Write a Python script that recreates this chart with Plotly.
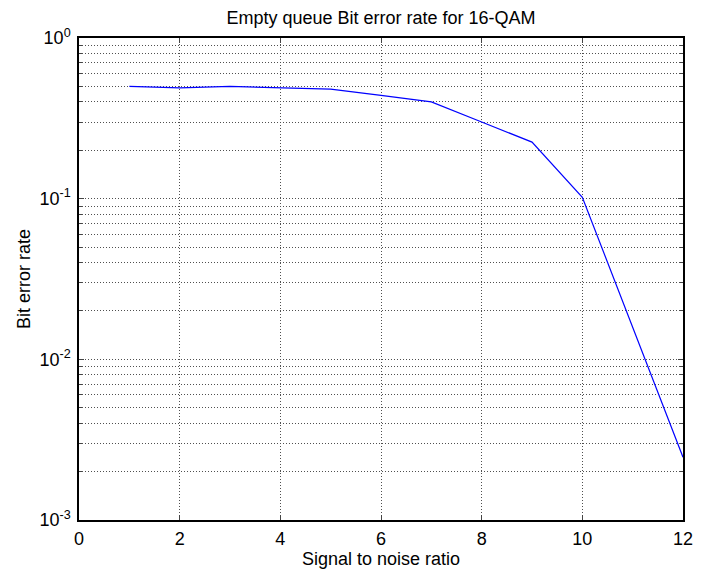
import plotly.graph_objects as go

snr = [1, 2, 3, 4, 5, 6, 7, 8, 9, 10, 11, 12]
ber = [0.50, 0.49, 0.50, 0.49, 0.48, 0.44, 0.40, 0.30, 0.225, 0.102, 0.0158, 0.00246]

x_ticks = [0, 2, 4, 6, 8, 10, 12]
y_tickvals = [1e-3, 1e-2, 1e-1, 1]
y_ticktext = ["10<sup>-3</sup>", "10<sup>-2</sup>", "10<sup>-1</sup>", "10<sup>0</sup>"]

FAM = "Liberation Sans, Arial, Helvetica, sans-serif"
FS = 18

fig = go.Figure()
fig.add_trace(go.Scatter(x=snr, y=ber, mode="lines",
                         line=dict(color="#0000ff", width=1.2), showlegend=False))

GC = "#505050"
GD = "1px,2px"
grid = dict(showgrid=True, gridcolor=GC, griddash=GD, gridwidth=1)

fig.update_layout(
    width=705, height=577,
    margin=dict(l=79, r=13, t=38, b=57),
    paper_bgcolor="white", plot_bgcolor="white",
    font=dict(family=FAM, size=FS, color="black"),
    title=dict(text="Empty queue Bit error rate for 16-QAM", x=0.5, xref="paper", xanchor="center",
               y=1 - 18 / 577, yref="container", yanchor="middle",
               font=dict(family=FAM, size=FS, color="black")),
)
fig.update_xaxes(range=[0, 12], tickvals=x_ticks, ticks="inside", ticklen=5,
                 showline=True, linecolor="black", linewidth=1.5, mirror="ticks",
                 zeroline=False, tickfont=dict(size=FS), ticklabelstandoff=2,
                 title=dict(text="Signal to noise ratio", standoff=3, font=dict(size=FS)),
                 **grid)
fig.update_yaxes(type="log", range=[-3, 0], tickvals=y_tickvals, ticktext=y_ticktext,
                 ticks="inside", ticklen=5, tickfont=dict(size=FS), ticklabelstandoff=3,
                 showline=True, linecolor="black", linewidth=1.5, mirror="ticks",
                 title=dict(text="Bit error rate", standoff=4, font=dict(size=FS)),
                 minor=dict(dtick="D1", ticks="inside", ticklen=3, showgrid=True,
                            gridcolor=GC, griddash=GD, gridwidth=1),
                 **grid)

fig.write_html("out.html")
